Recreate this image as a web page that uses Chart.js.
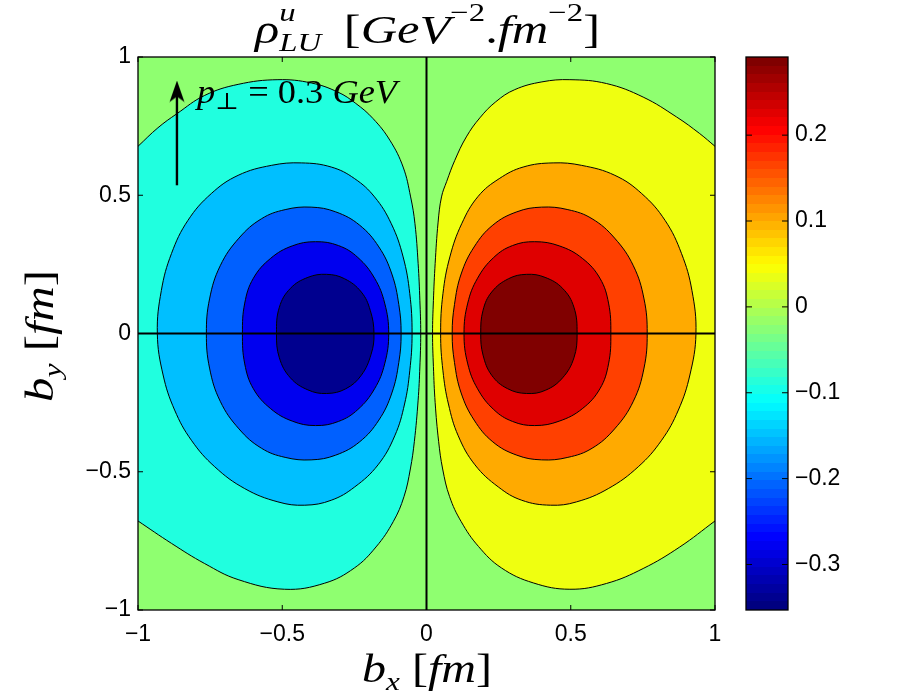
<!DOCTYPE html>
<html><head><meta charset="utf-8">
<script src="https://cdn.jsdelivr.net/npm/chart.js@4.4.1/dist/chart.umd.min.js"></script>
<style>
html,body{margin:0;padding:0;background:#fff;}
#wrap{position:relative;width:909px;height:700px;overflow:hidden;background:#fff;}
#main{position:absolute;left:0;top:0;}
#cbar{position:absolute;left:700px;top:0;}
.lbl{position:absolute;left:0;top:0;white-space:nowrap;font-family:'Liberation Serif','DejaVu Serif',serif;color:#000;line-height:1;transform-origin:0 0;}
.lbl i{font-style:italic;}
.sp{font-size:0.65em;position:relative;top:-0.83em;}
.sb{font-size:0.65em;position:relative;top:0.3em;}
.z{display:inline-block;width:0;}
.mk{display:inline-block;width:0;height:0;vertical-align:baseline;}
</style></head>
<body><div id="wrap">
<canvas id="main" width="909" height="700"></canvas>
<canvas id="cbar" width="209" height="700"></canvas>
<div class="lbl" id="title" style="font-size:40px"><i>ρ</i><span class="sp z"><i>u</i></span><span class="sb"><i>LU</i></span><span style="display:inline-block;width:0.45em"></span>[<i>GeV</i><span class="sp">−2</span>.<i>fm</i><span class="sp">−2</span>]<span class="mk"></span></div>
<div class="lbl" id="note" style="font-size:33px"><i>p</i><span class="sb" style="font-size:0.7em;top:0.25em">⊥</span> = 0.3 <i>GeV</i><span class="mk"></span></div>
<div class="lbl" id="xlab" style="font-size:40px"><i>b</i><span class="sb"><i>x</i></span> [<i>fm</i>]<span class="mk"></span></div>
<div class="lbl" id="ylab" style="font-size:40px"><i>b</i><span class="sb"><i>y</i></span> [<i>fm</i>]<span class="mk"></span></div>
</div>
<script>
// ---------- data ----------
const xTickValues = [-1, -0.5, 0, 0.5, 1];
const xTickLabels = ['−1', '−0.5', '0', '0.5', '1'];
const yTickValues = [-1, -0.5, 0, 0.5, 1];
const yTickLabels = ['−1', '−0.5', '0', '0.5', '1'];
const cbTickValues = [-0.3, -0.2, -0.1, 0, 0.1, 0.2];
const cbTickLabels = ['−0.3', '−0.2', '−0.1', '0', '0.1', '0.2'];
const cbRange = [-0.353, 0.291];
const arrowX = [-0.865, -0.865];
const arrowY = [0.536, 0.86];
const arrowTipY = 0.875;

// contour level boundaries (outermost first)
// level 1 curves run into the plot edge; levels 2-5 are closed loops
const negContour1 = [[-1,0.677],[-0.931,0.744],[-0.865,0.795],[-0.769,0.861],[-0.653,0.901],[-0.515,0.918],[-0.399,0.906],[-0.307,0.873],[-0.245,0.832],[-0.185,0.777],[-0.127,0.699],[-0.081,0.602],[-0.055,0.494],[-0.040,0.397],[-0.029,0.253],[-0.023,0.120],[-0.020,0],[-0.023,-0.121],[-0.029,-0.241],[-0.042,-0.39],[-0.056,-0.49],[-0.078,-0.59],[-0.115,-0.68],[-0.175,-0.772],[-0.25,-0.848],[-0.353,-0.903],[-0.492,-0.925],[-0.653,-0.890],[-0.769,-0.832],[-0.884,-0.759],[-1,-0.678]];
const negContour2 = [[-0.933,0],[-0.919,0.156],[-0.884,0.289],[-0.827,0.409],[-0.746,0.506],[-0.653,0.572],[-0.538,0.608],[-0.434,0.617],[-0.330,0.602],[-0.249,0.560],[-0.180,0.494],[-0.122,0.397],[-0.081,0.277],[-0.058,0.144],[-0.050,0],[-0.058,-0.135],[-0.076,-0.255],[-0.110,-0.370],[-0.168,-0.475],[-0.249,-0.555],[-0.330,-0.603],[-0.422,-0.621],[-0.515,-0.609],[-0.630,-0.561],[-0.734,-0.482],[-0.815,-0.386],[-0.873,-0.277],[-0.913,-0.150]];
const negContour3 = [[-0.763,0],[-0.752,0.125],[-0.715,0.245],[-0.650,0.345],[-0.572,0.415],[-0.490,0.448],[-0.400,0.457],[-0.315,0.440],[-0.232,0.392],[-0.165,0.313],[-0.120,0.215],[-0.096,0.105],[-0.088,0],[-0.096,-0.105],[-0.120,-0.215],[-0.165,-0.313],[-0.232,-0.392],[-0.315,-0.440],[-0.400,-0.457],[-0.490,-0.448],[-0.572,-0.415],[-0.650,-0.345],[-0.715,-0.245],[-0.752,-0.125]];
const negContour4 = [[-0.638,0],[-0.630,0.110],[-0.600,0.200],[-0.540,0.272],[-0.465,0.317],[-0.385,0.332],[-0.305,0.318],[-0.238,0.275],[-0.180,0.200],[-0.145,0.110],[-0.131,0],[-0.145,-0.110],[-0.180,-0.200],[-0.238,-0.275],[-0.305,-0.318],[-0.385,-0.333],[-0.465,-0.317],[-0.540,-0.272],[-0.600,-0.200],[-0.630,-0.110]];
const negContour5 = [[-0.520,0],[-0.510,0.095],[-0.472,0.163],[-0.411,0.203],[-0.347,0.214],[-0.284,0.198],[-0.226,0.150],[-0.195,0.084],[-0.182,0],[-0.192,-0.075],[-0.226,-0.151],[-0.280,-0.200],[-0.346,-0.217],[-0.411,-0.204],[-0.472,-0.160],[-0.510,-0.088]];

const posContour1 = [[1,0.677],[0.947,0.723],[0.867,0.783],[0.751,0.855],[0.624,0.904],[0.497,0.918],[0.400,0.910],[0.306,0.882],[0.240,0.838],[0.185,0.780],[0.138,0.711],[0.098,0.626],[0.070,0.550],[0.052,0.494],[0.040,0.400],[0.030,0.253],[0.024,0.120],[0.021,0],[0.024,-0.120],[0.030,-0.250],[0.042,-0.390],[0.056,-0.490],[0.080,-0.590],[0.120,-0.680],[0.180,-0.770],[0.260,-0.848],[0.370,-0.902],[0.497,-0.925],[0.624,-0.904],[0.751,-0.850],[0.878,-0.772],[1,-0.678]];
const posContour2 = [[0.934,0],[0.920,0.156],[0.884,0.289],[0.827,0.409],[0.746,0.506],[0.653,0.572],[0.538,0.608],[0.439,0.617],[0.335,0.602],[0.252,0.560],[0.179,0.496],[0.122,0.397],[0.081,0.277],[0.057,0.144],[0.049,0],[0.057,-0.135],[0.076,-0.255],[0.110,-0.370],[0.168,-0.475],[0.249,-0.555],[0.330,-0.603],[0.430,-0.621],[0.520,-0.609],[0.630,-0.561],[0.734,-0.482],[0.815,-0.386],[0.873,-0.277],[0.913,-0.150]];
const posContour3 = [[0.765,0],[0.754,0.125],[0.717,0.245],[0.652,0.345],[0.574,0.415],[0.490,0.448],[0.399,0.457],[0.313,0.440],[0.230,0.392],[0.165,0.313],[0.120,0.215],[0.097,0.105],[0.089,0],[0.097,-0.105],[0.120,-0.215],[0.165,-0.313],[0.230,-0.392],[0.313,-0.440],[0.399,-0.457],[0.490,-0.448],[0.574,-0.415],[0.652,-0.345],[0.717,-0.245],[0.754,-0.125]];
const posContour4 = [[0.639,0],[0.631,0.110],[0.601,0.200],[0.540,0.272],[0.460,0.317],[0.375,0.332],[0.298,0.318],[0.233,0.275],[0.177,0.200],[0.143,0.110],[0.130,0],[0.143,-0.110],[0.177,-0.200],[0.233,-0.275],[0.298,-0.318],[0.375,-0.333],[0.460,-0.317],[0.540,-0.272],[0.601,-0.200],[0.631,-0.110]];
const posContour5 = [[0.522,0],[0.511,0.095],[0.472,0.163],[0.411,0.203],[0.347,0.214],[0.284,0.198],[0.226,0.150],[0.196,0.084],[0.188,0],[0.196,-0.078],[0.226,-0.151],[0.280,-0.199],[0.347,-0.217],[0.413,-0.205],[0.472,-0.160],[0.511,-0.088]];

// ---------- styles ----------
const bgColor = '#8FFF70';
const negColors = ['#20FFDF', '#00BFFF', '#0060FF', '#0000EF', '#00008F'];
const posColors = ['#EFFF10', '#FFAA00', '#FF4000', '#DF0000', '#800000'];
const negContours = [negContour1, negContour2, negContour3, negContour4, negContour5];
const posContours = [posContour1, posContour2, posContour3, posContour4, posContour5];
const tickFont = {family: "'Liberation Sans', Arial, Helvetica, sans-serif", size: 23};

const toPts = a => a.map(([x, y]) => ({x, y}));

const datasets = [];
[[negContours, negColors], [posContours, posColors]].forEach(([cs, cols]) => {
  cs.forEach((c, k) => {
    datasets.push({
      data: toPts(c), backgroundColor: cols[k], borderColor: '#000', borderWidth: 1,
      fill: 'shape', tension: 0.4, pointRadius: 0, order: 20 - k, closedLoop: k > 0
    });
  });
});
datasets.push({data: [{x: -1, y: 0}, {x: 1, y: 0}], borderColor: '#000', borderWidth: 2, pointRadius: 0, fill: false, order: 3});
datasets.push({data: [{x: 0, y: -1}, {x: 0, y: 1}], borderColor: '#000', borderWidth: 2, pointRadius: 0, fill: false, order: 3});
datasets.push({data: arrowX.map((x, i) => ({x, y: arrowY[i]})), borderColor: '#000', borderWidth: 2.4, pointRadius: 0, fill: false, order: 2});

const head = document.createElement('canvas');
head.width = 16; head.height = 22;
(function () {
  const h = head.getContext('2d');
  h.fillStyle = '#000';
  h.beginPath(); h.moveTo(8, 0); h.lineTo(15.5, 21.5); h.lineTo(8, 16); h.lineTo(0.5, 21.5); h.closePath(); h.fill();
})();
datasets.push({data: [{x: arrowX[1], y: arrowTipY}], showLine: false, pointStyle: head, pointRadius: 10, order: 1});

// make closed contour lines smooth all round (closed path)
const loops = {
  id: 'loops',
  afterDatasetUpdate(chart, args) {
    const ds = chart.data.datasets[args.index];
    const line = args.meta.dataset;
    if (ds.closedLoop && line) { line._loop = true; line._fullLoop = true; }
  }
};

const frame = {
  id: 'frame',
  beforeDatasetsDraw(chart, args, opts) {
    if (!opts.bg) return;
    const {ctx, chartArea: a} = chart;
    ctx.save(); ctx.fillStyle = opts.bg; ctx.fillRect(a.left, a.top, a.right - a.left, a.bottom - a.top); ctx.restore();
  },
  afterDatasetsDraw(chart, args, opts) {
    const {ctx, chartArea: a} = chart;
    ctx.save();
    ctx.strokeStyle = '#000'; ctx.lineWidth = 1.3;
    ctx.strokeRect(a.left, a.top, a.right - a.left, a.bottom - a.top);
    const L = opts.tick || 5;
    ctx.lineWidth = 1;
    Object.values(chart.scales).forEach(sc => {
      if (!sc.options.display) return;
      sc.ticks.forEach(t => {
        const p = sc.getPixelForValue(t.value);
        ctx.beginPath();
        if (sc.isHorizontal()) {
          ctx.moveTo(p, a.bottom); ctx.lineTo(p, a.bottom - L);
          ctx.moveTo(p, a.top); ctx.lineTo(p, a.top + L);
        } else {
          ctx.moveTo(a.left, p); ctx.lineTo(a.left + L, p);
          ctx.moveTo(a.right, p); ctx.lineTo(a.right - L, p);
        }
        ctx.stroke();
      });
    });
    ctx.restore();
  }
};

new Chart(document.getElementById('main'), {
  type: 'line',
  data: {datasets},
  options: {
    responsive: false, animation: false, events: [],
    layout: {padding: {top: 57, right: 194, left: 0, bottom: 0}},
    scales: {
      x: {
        type: 'linear', min: -1, max: 1,
        grid: {display: false, drawTicks: false}, border: {display: false},
        afterFit: s => { s.height = 90; },
        afterBuildTicks: s => { s.ticks = xTickValues.map(v => ({value: v})); },
        ticks: {padding: 11, color: '#000', font: tickFont, maxRotation: 0,
          callback: v => xTickLabels[xTickValues.indexOf(v)]}
      },
      y: {
        type: 'linear', min: -1, max: 1,
        grid: {display: false, drawTicks: false}, border: {display: false},
        afterFit: s => { s.width = 138; },
        afterBuildTicks: s => { s.ticks = yTickValues.map(v => ({value: v})); },
        ticks: {padding: 7, color: '#000', font: tickFont,
          callback: v => yTickLabels[yTickValues.indexOf(v)]}
      }
    },
    plugins: {legend: {display: false}, tooltip: {enabled: false}, frame: {bg: bgColor, tick: 5}}
  },
  plugins: [loops, frame]
});

function jet(t) {
  const cl = v => Math.max(0, Math.min(1, v));
  const r = cl(1.5 - Math.abs(4 * t - 3)), g = cl(1.5 - Math.abs(4 * t - 2)), b = cl(1.5 - Math.abs(4 * t - 1));
  return `rgb(${Math.round(r * 255)},${Math.round(g * 255)},${Math.round(b * 255)})`;
}
function jetGradient(c) {
  const chart = c.chart; const a = chart.chartArea;
  if (!a) return '#888';
  const g = chart.ctx.createLinearGradient(0, a.bottom, 0, a.top);
  const n = 64;
  for (let i = 0; i < n; i++) {
    const col = jet(i / (n - 1));
    g.addColorStop(i / n, col); g.addColorStop((i + 1) / n, col);
  }
  return g;
}

new Chart(document.getElementById('cbar'), {
  type: 'bar',
  data: {labels: ['cb'], datasets: [{data: [cbRange], backgroundColor: jetGradient, borderWidth: 0, barPercentage: 1, categoryPercentage: 1}]},
  options: {
    responsive: false, animation: false, events: [],
    layout: {padding: {left: 46, top: 57, bottom: 90, right: 0}},
    scales: {
      x: {display: false},
      y: {
        position: 'right', min: cbRange[0], max: cbRange[1],
        grid: {display: false, drawTicks: false}, border: {display: false},
        afterFit: s => { s.width = 121; },
        afterBuildTicks: s => { s.ticks = cbTickValues.map(v => ({value: v})); },
        ticks: {padding: 7, color: '#000', font: tickFont,
          callback: v => cbTickLabels[cbTickValues.indexOf(v)]}
      }
    },
    plugins: {legend: {display: false}, tooltip: {enabled: false}, frame: {tick: 6}}
  },
  plugins: [frame]
});

// ---------- math labels ----------
function placeH(id, left, right, baseline) {
  const el = document.getElementById(id);
  el.style.transform = 'none';
  const r = el.getBoundingClientRect();
  const m = el.querySelector('.mk').getBoundingClientRect();
  const s = (right - left) / r.width, b = m.top - r.top;
  el.style.transform = `translate(${left}px, ${baseline - b}px) scaleX(${s})`;
}
function placeV(id, baseX, top, bottom) {
  const el = document.getElementById(id);
  el.style.transform = 'none';
  const r = el.getBoundingClientRect();
  const m = el.querySelector('.mk').getBoundingClientRect();
  const s = (bottom - top) / r.width, b = m.top - r.top;
  el.style.transform = `translate(${baseX}px, ${bottom}px) rotate(-90deg) scaleX(${s}) translate(0px, ${-b}px)`;
}
function placeAll() {
  placeH('title', 255, 600, 43);
  placeH('note', 197, 397, 103);
  placeH('xlab', 362, 492, 682);
  placeV('ylab', 53, 270, 402);
}
placeAll();
if (document.fonts && document.fonts.ready) document.fonts.ready.then(placeAll);
</script>
</body></html>
